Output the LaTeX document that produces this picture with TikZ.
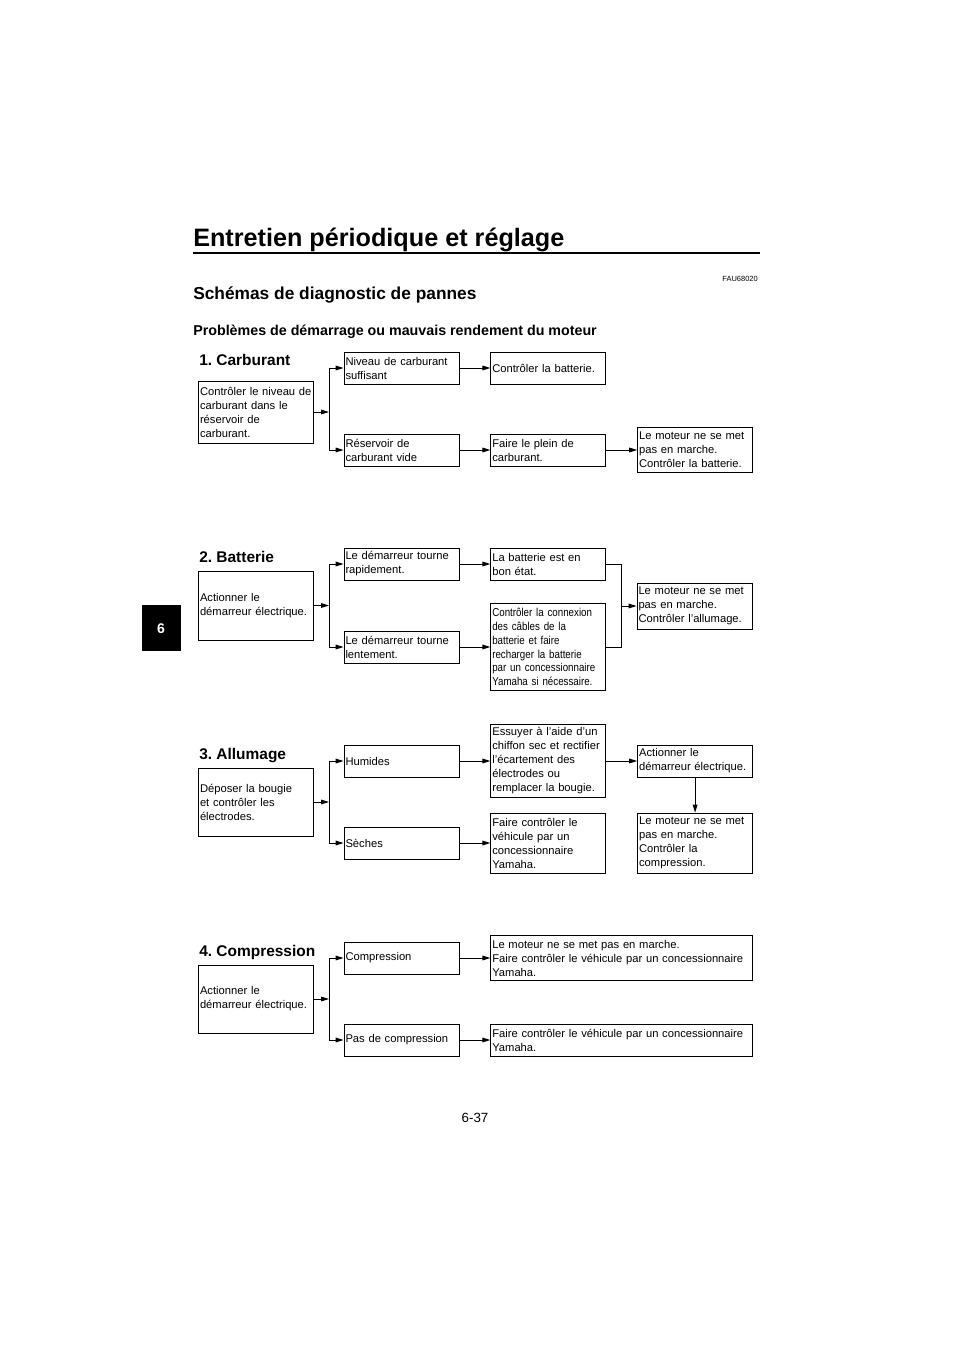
\documentclass[tikz,border=0pt]{standalone}
\usepackage{fontspec}
\setmainfont{Liberation Sans}
\newfontfamily\narrowfont{Liberation Sans}[FakeStretch=0.85]
\usetikzlibrary{arrows.meta,positioning}

\begin{document}
\frenchspacing
\begin{tikzpicture}[
  x=0.75pt, y=-0.75pt,
  node distance=4mm and 23.25pt,
  box/.style={draw, line width=0.6pt, align=left, text width=84pt, inner xsep=1.125pt,
              inner ysep=1pt, minimum height=24pt, font=\fontsize{8.4}{10.5}\selectfont},
  widebox/.style={box, text width=194.25pt},
  narrow/.style={font=\narrowfont\fontsize{8.6}{10.35}\selectfont},
  head/.style={anchor=base west, inner sep=0pt, font=\bfseries\fontsize{11.6}{14}\selectfont},
  arr/.style={-{Triangle[length=6pt,width=3.5pt]}, line width=0.7pt},
  wire/.style={line width=0.7pt}
]
\useasboundingbox (0,0) rectangle (960,1358);

% page heading
\node[anchor=base west, inner sep=0pt, font=\bfseries\fontsize{18.9}{22}\selectfont] (pagetitle) at (193,247) {Entretien périodique et réglage};
\draw[line width=1.2pt] (193,253) -- (760,253);
\node[anchor=base east, inner sep=0pt, font=\fontsize{5.6}{7}\selectfont] (refcode) at (758,282) {FAU68020};
\node[anchor=base west, inner sep=0pt, font=\bfseries\fontsize{13}{16}\selectfont] (sectitle) at (193,300) {Schémas de diagnostic de pannes};
\node[anchor=base west, inner sep=0pt, font=\bfseries\fontsize{10.7}{13}\selectfont] (subtitle) at (193,336) {Problèmes de démarrage ou mauvais rendement du moteur};

% chapter tab and page number
\fill (141.5,605) rectangle (180.5,651);
\node[text=white, font=\bfseries\fontsize{10.5}{12}\selectfont] (tab) at (161,628.5) {6};
\node[anchor=base, inner sep=0pt, font=\fontsize{10}{12}\selectfont] (pagenum) at (475,1122) {6-37};

% 1. Carburant
\node[head] (fuelhead) at (199,366) {1. Carburant};
\node[box, minimum height=46.5pt] (fuelchk) at (256,412) {Contrôler le niveau de\\carburant dans le\\réservoir de\\carburant.};
\node[box] (fuelok) at (401.5,368) {Niveau de carburant\\suffisant};
\node[box, right=of fuelok] (batchk) {Contrôler la batterie.};
\node[box] (fuelempty) at (401.5,450) {Réservoir de\\carburant vide};
\node[box, right=of fuelempty] (refuel) {Faire le plein de\\carburant.};
\node[box, right=of refuel, minimum height=33.75pt] (nostartA) {Le moteur ne se met\\pas en marche.\\Contrôler la batterie.};
\coordinate (splitA) at (329,412);
\draw[arr] (fuelchk.east) -- (splitA);
\draw[wire] (splitA |- fuelok.west) -- (splitA |- fuelempty.west);
\draw[arr] (splitA |- fuelok.west) -- (fuelok.west);
\draw[arr] (splitA |- fuelempty.west) -- (fuelempty.west);
\draw[arr] (fuelok) -- (batchk);
\draw[arr] (fuelempty) -- (refuel);
\draw[arr] (refuel) -- (nostartA);

% 2. Batterie
\node[head] (bathead) at (199,562) {2. Batterie};
\node[box, minimum height=51.75pt] (startB) at (256,605.5) {Actionner le\\démarreur électrique.};
\node[box] (fastB) at (401.5,564) {Le démarreur tourne\\rapidement.};
\node[box, right=of fastB] (batgood) {La batterie est en\\bon état.};
\node[box] (slowB) at (401.5,647) {Le démarreur tourne\\lentement.};
\node[box, narrow, right=of slowB, minimum height=65.25pt] (recharge) {Contrôler la connexion\\des câbles de la\\batterie et faire\\recharger la batterie\\par un concessionnaire\\Yamaha si nécessaire.};
\node[box, minimum height=34.5pt] (nostartB) at (694.5,606) {Le moteur ne se met\\pas en marche.\\Contrôler l'allumage.};
\coordinate (splitB) at (329,605.5);
\coordinate (joinB) at (621.5,606);
\draw[arr] (startB.east) -- (splitB);
\draw[wire] (splitB |- fastB.west) -- (splitB |- slowB.west);
\draw[arr] (splitB |- fastB.west) -- (fastB.west);
\draw[arr] (splitB |- slowB.west) -- (slowB.west);
\draw[arr] (fastB) -- (batgood);
\draw[arr] (slowB) -- (recharge);
\draw[wire] (batgood.east) -- (batgood.east -| joinB) -- (recharge.east -| joinB) -- (recharge.east);
\draw[arr] (joinB |- nostartB.west) -- (nostartB.west);

% 3. Allumage
\node[head] (ignhead) at (199,759) {3. Allumage};
\node[box, minimum height=51pt] (plugchk) at (256,802) {Déposer la bougie\\et contrôler les\\électrodes.};
\node[box] (wet) at (401.5,761) {Humides};
\node[box, right=of wet, minimum height=54.75pt] (wipe) {Essuyer à l'aide d'un\\chiffon sec et rectifier\\l'écartement des\\électrodes ou\\remplacer la bougie.};
\node[box, right=of wipe] (restart) {Actionner le\\démarreur électrique.};
\node[box] (dry) at (401.5,843) {Sèches};
\node[box, right=of dry, minimum height=45pt] (dealerC) {Faire contrôler le\\véhicule par un\\concessionnaire\\Yamaha.};
\node[box, right=of dealerC, minimum height=45pt] (nostartC) {Le moteur ne se met\\pas en marche.\\Contrôler la\\compression.};
\coordinate (splitC) at (329,802);
\draw[arr] (plugchk.east) -- (splitC);
\draw[wire] (splitC |- wet.west) -- (splitC |- dry.west);
\draw[arr] (splitC |- wet.west) -- (wet.west);
\draw[arr] (splitC |- dry.west) -- (dry.west);
\draw[arr] (wet) -- (wipe);
\draw[arr] (wipe) -- (restart);
\draw[arr] (dry) -- (dealerC);
\draw[arr] (restart) -- (nostartC);

% 4. Compression
\node[head] (comphead) at (199,956) {4. Compression};
\node[box, minimum height=51pt] (startD) at (256,999) {Actionner le\\démarreur électrique.};
\node[box] (compok) at (401.5,958) {Compression};
\node[widebox, right=of compok, minimum height=33.75pt] (dealerD) {Le moteur ne se met pas en marche.\\Faire contrôler le véhicule par un concessionnaire\\Yamaha.};
\node[box] (nocomp) at (401.5,1040) {Pas de compression};
\node[widebox, right=of nocomp] (dealerE) {Faire contrôler le véhicule par un concessionnaire\\Yamaha.};
\coordinate (splitD) at (329,999);
\draw[arr] (startD.east) -- (splitD);
\draw[wire] (splitD |- compok.west) -- (splitD |- nocomp.west);
\draw[arr] (splitD |- compok.west) -- (compok.west);
\draw[arr] (splitD |- nocomp.west) -- (nocomp.west);
\draw[arr] (compok) -- (dealerD);
\draw[arr] (nocomp) -- (dealerE);
\end{tikzpicture}
\end{document}
